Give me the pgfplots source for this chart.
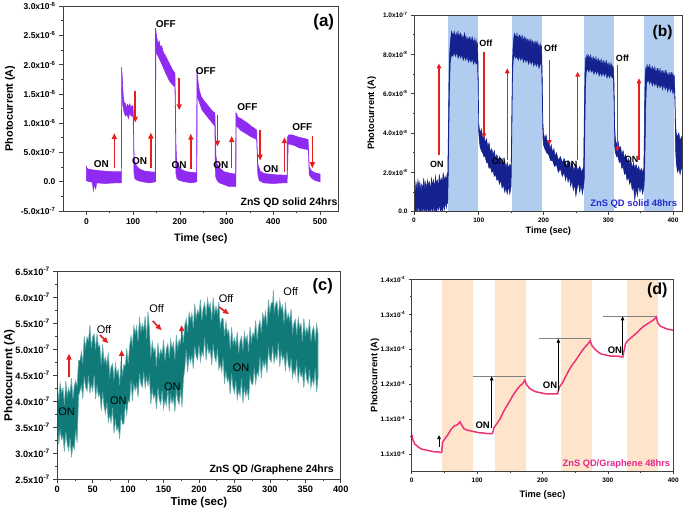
\documentclass[border=0pt]{standalone}
\usepackage{fontspec}
\setmainfont{Liberation Sans}
\usepackage{pgfplots}
\pgfplotsset{compat=1.18}
\usetikzlibrary{arrows.meta}

\definecolor{purpA}{RGB}{143,43,240}
\definecolor{navyB}{RGB}{20,33,143}
\definecolor{bandB}{RGB}{176,205,240}
\definecolor{tealC}{RGB}{16,122,120}
\definecolor{tealE}{RGB}{100,172,172}
\definecolor{pinkD}{RGB}{236,50,120}
\definecolor{bandD}{RGB}{253,228,202}
\definecolor{redA}{RGB}{230,30,30}
\definecolor{blueT}{RGB}{40,40,210}
\definecolor{magT}{RGB}{230,40,140}

\newcommand\fs[1]{\fontsize{#1}{#1}\selectfont}
\newcommand\sci[2]{#1x10\textsuperscript{#2}}

\pgfplotsset{panel/.style={scale only axis, anchor=south west, axis on top,
  axis line style={line width=0.7pt, black!75},
  tick align=outside, xtick pos=bottom, ytick pos=left,
  major tick length=4pt, minor tick length=2pt,
  tick style={line width=0.6pt, black!75},
  minor x tick num=1, minor y tick num=1,
  /pgf/number format/assume math mode=true,
  xlabel={Time (sec)}, ylabel={Photocurrent (A)}}}

\tikzset{arrA/.style={-{Triangle[length=6pt,width=5pt]}, line width=1.6pt, redA},
  arrB/.style={-{Triangle[length=5pt,width=4.5pt]}, line width=1.4pt, redA},
  arrD/.style={-{Triangle[length=4pt,width=3.5pt]}, line width=0.8pt, black}}

\begin{document}
\begin{tikzpicture}
\path[use as bounding box] (0pt,0pt) rectangle (685pt,515pt);

% (a)
\begin{axis}[panel, at={(63pt,304pt)}, width=275.7pt, height=205pt,
  xmin=-50, xmax=540, ymin=-0.5, ymax=3.0,
  xtick={0,100,...,500},
  ytick={-0.5,0,0.5,1,1.5,2,2.5,3},
  yticklabels={-\sci{5.0}{-7},0.0,\sci{5.0}{-7},\sci{1.0}{-6},\sci{1.5}{-6},\sci{2.0}{-6},\sci{2.5}{-6},\sci{3.0}{-6}},
  tick label style={font=\bfseries\fs{8.5}},
  label style={font=\bfseries\fs{10.8}},
  xlabel style={at={(axis description cs:0.5,-0.137)},anchor=center},
  ylabel style={at={(axis description cs:-0.192,0.5)},anchor=center}]
\addplot[fill=purpA, draw=purpA, line width=0.6pt] coordinates {
(0,0.26)(2,0.22)(8,0.21)(15,0.20)(25,0.19)(40,0.18)(55,0.17)(75,0.17)(75.5,1.96)(77,1.75)(79,1.45)(81,1.35)(84,1.33)(86,1.24)(88,1.32)(91,1.28)(93,1.33)(95,1.26)(98,1.30)(100,1.28)(101,1.0)(102,0.45)(104,0.33)(108,0.26)(115,0.21)(125,0.18)(135,0.17)(147.5,0.16)
(148,2.62)(150,2.50)(153,2.36)(156,2.40)(158,2.30)(161,2.32)(165,2.20)(170,2.14)(175,2.06)(180,1.98)(185,1.90)(189.5,1.86)(190.5,1.4)(191.5,0.7)(193,0.35)(198,0.26)(205,0.20)(215,0.17)(236,0.15)
(236.5,1.92)(239,1.70)(242,1.55)(246,1.45)(250,1.40)(255,1.35)(262,1.28)(268,1.22)(275,1.17)(276,0.9)(277,0.45)(280,0.30)(287,0.22)(295,0.17)(310,0.14)(319.5,0.13)
(320,1.18)(322,1.15)(324,1.10)(330,1.08)(337,1.04)(345,1.00)(352,0.95)(358,0.92)(364.5,0.88)(365.5,0.6)(367,0.3)(372,0.18)(380,0.14)(400,0.12)(429.5,0.11)
(430,0.75)(433,0.80)(440,0.80)(450,0.77)(460,0.75)(470,0.73)(474.5,0.72)(475.5,0.5)(477,0.25)(482,0.18)(490,0.15)(500,0.13)
(500,0.00)(490,0.02)(482,0.06)(477,0.12)(475.5,0.45)(474.5,0.55)(465,0.56)(455,0.58)(445,0.62)(432,0.65)(430,0.10)(429.5,-0.02)(420,-0.02)(400,-0.03)(380,-0.02)(370,0.02)(367,0.12)(365.5,0.5)(364.5,0.72)(360,0.74)(350,0.78)(340,0.83)(330,0.88)(322,0.95)(320.5,0.95)(320,-0.08)
(305,-0.08)(295,-0.05)(285,-0.02)(280,0.02)(277,0.08)(276,0.3)(275,0.95)(270,1.00)(262,1.08)(255,1.15)(248,1.22)(242,1.35)(238,1.45)(237,1.5)(236.5,0.0)(225,-0.02)(210,0.0)(200,0.02)(194,0.05)(191.5,0.15)(190.5,1.2)(189.5,1.62)
(185,1.65)(178,1.72)(170,1.85)(162,2.00)(155,2.12)(150,2.20)(148.5,2.3)(148,0.0)(135,-0.02)(120,0.0)(110,0.02)(104,0.05)(102,0.15)(101,0.8)(100,1.12)(96,1.12)(93,1.18)(90,1.08)(87,1.15)(84,1.12)(81,1.18)(78,1.30)(76,1.5)(75.5,1.6)(75,-0.02)
(60,-0.02)(40,-0.03)(22,-0.02)(20,-0.12)(17,-0.05)(15,-0.15)(13,-0.02)(10,0.0)(5,0.0)(0,0.02)} -- cycle;
\draw[arrA] (axis cs:59.8,0.23) -- (axis cs:59.8,0.83);
\draw[arrA] (axis cs:104.7,1.55) -- (axis cs:104.7,1.01);
\draw[arrA] (axis cs:138,0.23) -- (axis cs:138,0.84);
\draw[arrA] (axis cs:198.7,1.77) -- (axis cs:198.7,1.22);
\draw[arrA] (axis cs:223.6,0.22) -- (axis cs:223.6,0.82);
\draw[arrA] (axis cs:280.6,1.14) -- (axis cs:280.6,0.60);
\draw[arrA] (axis cs:311,0.23) -- (axis cs:311,0.78);
\draw[arrA] (axis cs:371.8,0.89) -- (axis cs:371.8,0.36);
\draw[arrA] (axis cs:423.8,0.17) -- (axis cs:423.8,0.76);
\draw[arrA] (axis cs:483.6,0.78) -- (axis cs:483.6,0.23);
\begin{scope}[every node/.style={font=\bfseries\fs{10}}]
\node at (axis cs:32,0.31) {ON};
\node at (axis cs:114,0.35) {ON};
\node at (axis cs:198.7,0.285) {ON};
\node at (axis cs:288,0.285) {ON};
\node at (axis cs:395,0.21) {ON};
\node at (axis cs:170,2.69) {OFF};
\node at (axis cs:255.7,1.89) {OFF};
\node at (axis cs:344.7,1.27) {OFF};
\node at (axis cs:462,0.94) {OFF};
\end{scope}
\node[font=\bfseries\fs{17}] at (axis cs:508,2.73) {(a)};
\node[font=\bfseries\fs{10.5}, anchor=east, inner sep=1pt] at (axis cs:540,-0.36) {ZnS QD solid 24hrs};
\end{axis}

% (b)
\begin{axis}[panel, at={(414pt,303.3pt)}, width=268.7pt, height=196.7pt,
  xmin=0, xmax=415, ymin=0, ymax=10,
  xtick={0,100,...,400},
  ytick={0,2,4,6,8,10},
  yticklabels={0.0,\sci{2.0}{-8},\sci{4.0}{-8},\sci{6.0}{-8},\sci{8.0}{-8},\sci{1.0}{-7}},
  tick label style={font=\bfseries\fs{6.5}},
  label style={font=\bfseries\fs{9.2}},
  major tick length=3pt, minor tick length=1.5pt,
  xlabel style={at={(axis description cs:0.5,-0.1)},anchor=center},
  ylabel style={at={(axis description cs:-0.157,0.5)},anchor=center}]
\fill[bandB] (axis cs:52,0) rectangle (axis cs:98.5,10);
\fill[bandB] (axis cs:151,0) rectangle (axis cs:197,10);
\fill[bandB] (axis cs:263,0) rectangle (axis cs:309.5,10);
\fill[bandB] (axis cs:355.7,0) rectangle (axis cs:402,10);
\addplot[fill=navyB, draw=navyB, line width=0.5pt] coordinates {
(0,1.3)(2,1.0)(3,1.5)(5,1.1)(6,1.6)(8,1.2)(9,1.5)(11,1.0)(12,1.4)(14,1.2)(15,1.7)(17,1.1)(18,1.5)(20,1.2)(21,1.6)(23,1.3)(24,1.5)(26,1.1)(27,1.7)(29,1.3)(30,1.6)(32,1.2)(33,1.8)(35,1.4)(36,1.6)(38,1.3)(39,1.9)(41,1.4)(42,1.7)(44,1.5)(45,2.0)(47,1.5)(48,1.8)(50,1.6)(51,1.9)(52,1.7)
(53,4)(54,6.5)(55,8.0)(56,8.6)(57,8.9)(58,9.2)(59,8.8)(60,9.1)(61,8.7)(62,9.2)(63,8.9)(64,9.0)(65,8.7)(66,9.1)(67,8.8)(68,9.2)(69,8.7)(70,9.0)(71,8.8)(72,9.1)(73,8.6)(74,9.0)(75,8.7)(76,8.9)(77,8.6)(78,9.1)(79,8.7)(80,8.9)(81,8.5)(82,8.9)(83,8.6)(84,8.8)(85,8.5)(86,8.9)(87,8.6)(88,8.8)(89,8.5)(90,8.9)(91,8.6)(92,8.7)(93,8.5)(94,8.8)(95,8.5)(96,8.7)(97,8.4)(98,8.6)
(99,7.5)(100,4.5)(101,4.2)(103,4.0)(104,4.2)(106,3.7)(108,3.9)(110,3.5)(112,3.7)(114,3.3)(116,3.5)(118,3.0)(120,3.2)(122,2.9)(124,3.1)(126,2.7)(128,2.9)(130,2.6)(132,2.8)(134,2.4)(136,2.7)(138,2.3)(140,2.6)(142,2.2)(144,2.5)(146,2.2)(148,2.4)(150,2.2)
(151,5)(152,7.5)(153,8.4)(154,8.8)(155,9.1)(156,8.7)(157,9.0)(158,8.6)(159,9.1)(160,8.7)(161,8.9)(162,8.6)(163,9.0)(164,8.7)(165,8.9)(166,8.5)(167,9.0)(168,8.6)(169,8.8)(170,8.5)(171,8.9)(172,8.6)(173,8.8)(174,8.4)(175,8.8)(176,8.5)(177,8.7)(178,8.4)(179,8.8)(180,8.5)(181,8.7)(182,8.3)(183,8.7)(184,8.4)(185,8.6)(186,8.3)(187,8.7)(188,8.4)(189,8.6)(190,8.3)(191,8.6)(192,8.3)(193,8.5)(194,8.2)(195,8.5)(196,8.3)(197,8.4)
(198,7)(199,4.6)(200,4.0)(202,3.7)(204,3.9)(206,3.5)(208,3.6)(210,3.2)(212,3.4)(214,3.0)(216,3.2)(218,2.8)(220,3.0)(223,2.6)(226,2.8)(229,2.5)(232,2.7)(235,2.3)(238,2.6)(241,2.2)(244,2.5)(247,2.1)(250,2.4)(253,2.1)(256,2.3)(259,2.0)(262,2.3)
(263,5)(264,7)(265,7.8)(266,7.7)(267,8.0)(268,7.6)(269,8.0)(270,7.6)(271,7.9)(272,7.5)(273,8.0)(274,7.6)(275,7.8)(276,7.5)(277,7.9)(278,7.5)(279,7.8)(280,7.4)(281,7.9)(282,7.5)(283,7.7)(284,7.4)(285,7.8)(286,7.4)(287,7.7)(288,7.3)(289,7.8)(290,7.4)(291,7.6)(292,7.3)(293,7.7)(294,7.4)(295,7.6)(296,7.3)(297,7.7)(298,7.3)(299,7.5)(300,7.2)(301,7.6)(302,7.3)(303,7.5)(304,7.2)(305,7.5)(306,7.2)(307,7.4)(308,7.3)
(309,6.5)(310,4.3)(311,3.7)(313,3.4)(315,3.6)(317,3.2)(319,3.3)(321,2.9)(323,3.1)(325,2.7)(327,2.9)(329,2.5)(331,2.7)(333,2.4)(335,2.6)(337,2.2)(339,2.5)(341,2.2)(343,2.4)(345,2.1)(347,2.3)(349,2.0)(351,2.2)(353,2.0)(355,2.2)
(356,5)(357,6.8)(358,7.3)(359,7.2)(360,7.5)(361,7.1)(362,7.4)(363,7.0)(364,7.5)(365,7.1)(366,7.3)(367,7.0)(368,7.4)(369,7.0)(370,7.3)(371,6.9)(372,7.4)(373,7.0)(374,7.2)(375,6.9)(376,7.3)(377,7.0)(378,7.2)(379,6.9)(380,7.3)(381,6.9)(382,7.1)(383,6.8)(384,7.2)(385,6.9)(386,7.1)(387,6.8)(388,7.2)(389,6.8)(390,7.1)(391,6.8)(392,7.0)(393,6.7)(394,7.1)(395,6.8)(396,7.0)(397,6.7)(398,7.1)(399,6.8)(400,7.0)(401,6.8)(402,6.9)
(403,6)(404,4.5)(405,4.0)(407,3.8)(409,4.0)(411,3.6)(413,3.8)(415,3.4)
(415,2.0)(413,2.3)(411,1.9)(409,2.2)(407,2.0)(405,2.5)(404,3.2)(403,5.5)(402,6.3)(400,6.0)(398,6.3)(396,6.1)(394,6.4)(392,6.1)(390,6.4)(388,6.2)(386,6.5)(384,6.2)(382,6.5)(380,6.3)(378,6.5)(376,6.3)(374,6.6)(372,6.4)(370,6.6)(368,6.4)(366,6.7)(364,6.5)(362,6.7)(360,6.6)(359,6.5)(358,5.5)(357,3.5)(356,1.8)
(355,1.2)(353,0.9)(351,1.3)(349,1.0)(347,1.4)(345,0.8)(343,1.2)(341,0.6)(339,1.3)(337,1.1)(335,1.6)(333,1.4)(331,1.8)(329,1.6)(327,2.0)(325,1.9)(323,2.3)(321,2.2)(319,2.6)(317,2.5)(315,2.8)(313,2.8)(311,3.0)(310,3.3)(309,5.5)(308,6.8)
(306,6.8)(304,7.0)(302,6.8)(300,7.0)(298,6.8)(296,7.1)(294,6.9)(292,7.1)(290,6.9)(288,7.1)(286,6.9)(284,7.2)(282,7.0)(280,7.2)(278,7.0)(276,7.2)(274,7.1)(272,7.3)(270,7.1)(268,7.3)(266,7.1)(265,6.5)(264,4.5)(263,1.7)
(262,1.3)(260,0.9)(258,1.4)(256,1.0)(254,1.5)(252,1.2)(250,0.8)(248,1.4)(246,1.1)(244,1.6)(242,1.3)(240,1.8)(238,1.5)(236,1.9)(234,1.6)(232,2.0)(229,1.8)(226,2.2)(223,2.0)(220,2.4)(217,2.3)(214,2.6)(211,2.6)(208,2.9)(205,3.0)(202,3.2)(200,3.4)(199,3.8)(198,6.0)(197,7.5)
(195,7.5)(193,7.3)(191,7.6)(189,7.4)(187,7.6)(185,7.4)(183,7.7)(181,7.5)(179,7.7)(177,7.5)(175,7.8)(173,7.6)(171,7.8)(169,7.6)(167,7.9)(165,7.7)(163,7.9)(161,7.7)(159,7.9)(157,7.8)(155,8.0)(153,7.6)(152,6.5)(151,3.5)(150,1.3)
(148,0.9)(146,1.3)(144,0.9)(142,1.2)(140,1.0)(138,1.4)(136,1.2)(134,1.6)(132,1.4)(130,1.7)(128,1.6)(126,1.9)(124,1.8)(122,2.1)(120,2.0)(118,2.3)(116,2.2)(114,2.5)(112,2.5)(110,2.8)(108,2.8)(106,3.0)(104,3.1)(102,3.3)(101,3.6)(100,4.0)(99,6.5)(98,7.6)
(96,7.5)(94,7.7)(92,7.5)(90,7.8)(88,7.6)(86,7.8)(84,7.6)(82,7.9)(80,7.7)(78,7.9)(76,7.7)(74,8.0)(72,7.8)(70,8.0)(68,7.8)(66,8.1)(64,7.9)(62,8.1)(60,7.9)(58,8.0)(56,7.6)(55,6.5)(54,4.5)(53,2.0)(52,0.4)
(51,0.6)(50,0.2)(48,0.5)(47,0.1)(45,0.4)(44,-0.2)(42,0.3)(41,0.0)(39,0.4)(38,0.1)(36,0.3)(35,-0.2)(33,0.2)(32,0.0)(30,0.3)(29,-0.1)(27,0.3)(26,0.0)(24,0.2)(23,-0.2)(21,0.3)(20,0.0)(18,0.2)(17,-0.1)(15,0.3)(14,0.0)(12,0.2)(11,-0.2)(9,0.2)(8,0.0)(6,0.3)(5,-0.1)(3,0.2)(2,0.0)(0,0.4)} -- cycle;
\draw[arrB] (axis cs:38.6,2.88) -- (axis cs:38.6,7.54);
\draw[arrB] (axis cs:108,8.13) -- (axis cs:108,3.73);
\draw[arrB] (axis cs:144,2.63) -- (axis cs:144,7.29);
\draw[arrB] (axis cs:209,7.71) -- (axis cs:209,3.39);
\draw[arrB] (axis cs:252.8,2.63) -- (axis cs:252.8,7.12);
\draw[arrB] (axis cs:314,7.46) -- (axis cs:314,3.05);
\draw[arrB] (axis cs:347.5,2.63) -- (axis cs:347.5,6.78);
\begin{scope}[every node/.style={font=\bfseries\fs{9}}]
\node at (axis cs:35.5,2.41) {ON};
\node at (axis cs:111,8.56) {Off};
\node at (axis cs:130.8,2.58) {ON};
\node at (axis cs:211,8.3) {Off};
\node at (axis cs:242,2.42) {ON};
\node at (axis cs:322,7.8) {Off};
\node at (axis cs:336,2.66) {ON};
\end{scope}
\node[font=\bfseries\fs{15.5}] at (axis cs:384,9.12) {(b)};
\node[font=\bfseries\fs{9.4}, text=blueT, anchor=east, inner sep=1pt] at (axis cs:408,0.39) {ZnS QD solid 48hrs};
\end{axis}

% (c)
\begin{axis}[panel, at={(57.3pt,36pt)}, width=283.4pt, height=207.3pt,
  xmin=0, xmax=400, ymin=2.5, ymax=6.5,
  xtick={0,50,...,400},
  ytick={2.5,3,...,6.5},
  yticklabels={\sci{2.5}{-7},\sci{3.0}{-7},\sci{3.5}{-7},\sci{4.0}{-7},\sci{4.5}{-7},\sci{5.0}{-7},\sci{5.5}{-7},\sci{6.0}{-7},\sci{6.5}{-7}},
  tick label style={font=\bfseries\fs{9.2}},
  label style={font=\bfseries\fs{11.5}},
  xlabel style={at={(axis description cs:0.5,-0.112)},anchor=center},
  ylabel style={at={(axis description cs:-0.169,0.5)},anchor=center}]
\addplot[fill=tealC, draw=tealE, line width=0.6pt] coordinates {
(0,4.30)(2,4.02)(4,4.35)(6,4.17)(8,4.26)(10,3.93)(12,4.39)(14,4.10)(16,4.25)(18,4.16)(20,4.44)(22,4.05)(24,4.29)(26,4.40)(28,4.29)(30,4.79)(32,4.78)(34,4.96)(36,4.72)(38,5.25)(40,5.04)(42,5.24)(44,5.17)(46,5.47)(48,5.03)(50,5.24)(52,5.30)(54,5.00)(56,5.30)(58,5.05)(60,5.08)(62,4.70)(64,5.10)(66,4.75)(68,4.85)(70,4.70)(72,4.94)(74,4.48)(76,4.67)(78,4.72)(80,4.41)(82,4.73)(84,4.53)(86,4.61)(88,4.31)(90,4.78)(92,4.51)(94,4.71)(96,4.68)(98,5.02)
(100,4.72)(102,5.06)(104,5.26)(106,5.07)(108,5.45)(110,5.31)(112,5.45)(114,5.15)(116,5.63)(118,5.35)(120,5.49)(122,5.38)(124,5.64)(126,5.21)(128,5.72)(130,5.40)(132,4.84)(134,5.15)(136,4.95)(138,5.03)(140,4.67)(142,5.13)(144,4.84)(146,5.00)(148,4.91)(150,5.19)(152,4.78)(154,5.02)(156,5.11)(158,4.84)(160,5.19)(162,5.02)(164,5.13)(166,4.81)(168,5.28)(170,5.01)(172,5.19)(174,5.12)(176,5.42)(178,5.13)(180,5.47)(182,5.59)(184,5.34)(186,5.71)(188,5.57)(190,5.70)(192,5.41)(194,5.88)(196,5.59)(198,5.76)
(200,5.68)(202,5.96)(204,5.56)(206,5.80)(208,5.90)(210,5.63)(212,5.98)(214,5.80)(216,5.89)(218,5.56)(220,6.00)(222,5.69)(224,5.83)(226,5.70)(228,5.91)(230,5.43)(232,5.59)(234,5.60)(236,5.26)(238,5.54)(240,5.31)(242,5.38)(244,5.01)(246,5.43)(248,5.10)(250,5.22)(252,5.08)(254,5.34)(256,4.93)(258,5.16)(260,5.25)(262,4.98)(264,5.33)(266,5.16)(268,5.27)(270,4.96)(272,5.43)(274,5.15)(276,5.32)(278,5.25)(280,5.56)(282,5.18)(284,5.44)(286,5.56)(288,5.32)(290,5.70)(292,5.57)(294,5.73)(296,5.45)(298,5.96)
(300,5.70)(302,5.90)(304,5.90)(305,6.15)(306,5.72)(308,5.87)(310,5.93)(312,5.64)(314,5.96)(316,5.77)(318,5.85)(320,5.50)(322,5.91)(324,5.58)(326,5.69)(328,5.55)(330,5.78)(332,5.32)(334,5.51)(336,5.58)(338,5.28)(340,5.61)(342,5.42)(344,5.50)(346,5.16)(348,5.60)(350,5.28)(352,5.42)(354,5.32)(356,5.58)(358,5.15)(360,5.37)(362,5.44)(364,5.15)(366,5.49)(368,5.30)
(368,4.46)(366,4.17)(364,4.63)(362,4.32)(360,4.43)(358,4.26)(356,4.61)(354,4.34)(352,4.43)(350,4.67)(348,4.26)(346,4.55)(344,4.47)(342,4.63)(340,4.35)(338,4.81)(336,4.50)(334,4.61)(332,4.46)(330,4.83)(328,4.59)(326,4.71)(324,4.96)(322,4.58)(320,4.88)(318,4.80)(316,4.96)(314,4.67)(312,5.13)(310,4.80)(308,4.91)(306,4.74)(304,5.07)(302,4.76)(300,4.81)
(298,5.00)(296,4.55)(294,4.79)(292,4.66)(290,4.78)(288,4.44)(286,4.86)(284,4.49)(282,4.56)(280,4.34)(278,4.65)(276,4.32)(274,4.34)(272,4.50)(270,4.02)(268,4.23)(266,4.10)(264,4.26)(262,3.97)(260,4.43)(258,4.10)(256,4.21)(254,4.04)(252,4.40)(250,4.16)(248,4.27)(246,4.53)(244,4.14)(242,4.45)(240,4.38)(238,4.58)(236,4.34)(234,4.84)(232,4.57)(230,4.73)(228,4.61)(226,5.01)(224,4.76)(222,4.86)(220,5.10)(218,4.70)(216,4.99)(214,4.92)(212,5.09)(210,4.79)(208,5.23)(206,4.88)(204,4.96)(202,4.77)(200,5.09)
(198,4.80)(196,4.86)(194,5.07)(192,4.63)(190,4.88)(188,4.75)(186,4.88)(184,4.56)(182,4.99)(180,4.64)(178,4.42)(176,3.89)(174,4.23)(172,3.94)(170,4.02)(168,4.23)(166,3.80)(164,4.07)(162,3.96)(160,4.11)(158,3.81)(156,4.25)(154,3.92)(152,4.03)(150,3.86)(148,4.21)(146,3.94)(144,4.03)(142,4.26)(140,3.85)(138,4.14)(136,4.06)(134,4.23)(132,3.94)(130,4.48)(128,4.30)(126,4.46)(124,4.26)(122,4.57)(120,4.27)(118,4.33)(116,4.53)(114,4.08)(112,4.33)(110,4.21)(108,4.33)(106,4.01)(104,4.41)(102,3.99)(100,4.01)
(98,3.74)(96,3.96)(94,3.56)(92,3.56)(90,3.74)(88,3.27)(86,3.50)(84,3.44)(82,3.64)(80,3.38)(78,3.87)(76,3.59)(74,3.73)(72,3.60)(70,3.98)(68,3.76)(66,3.90)(64,4.18)(62,3.82)(60,4.15)(58,4.10)(56,4.30)(54,4.04)(52,4.51)(50,4.20)(48,4.32)(46,4.16)(44,4.49)(42,4.20)(40,4.27)(38,4.48)(36,4.05)(34,4.31)(32,4.20)(30,4.10)(28,3.20)(26,3.45)(24,3.08)(22,3.14)(20,2.92)(18,3.30)(16,3.05)(14,3.17)(12,3.42)(10,3.03)(8,3.33)(6,3.26)(4,3.44)(2,3.17)(0,3.65)} -- cycle;
\draw[arrA] (axis cs:16.5,4.47) -- (axis cs:16.5,4.92);
\draw[arrA] (axis cs:60.2,5.28) -- (axis cs:72,5.12);
\draw[arrA] (axis cs:90.8,4.54) -- (axis cs:90.8,4.99);
\draw[arrA] (axis cs:134.6,5.55) -- (axis cs:147.3,5.37);
\draw[arrA] (axis cs:175.5,5.02) -- (axis cs:175.5,5.47);
\draw[arrA] (axis cs:228,5.82) -- (axis cs:242.4,5.68);
\begin{scope}[every node/.style={font=\fs{11}}]
\node at (axis cs:13.2,3.79) {ON};
\node at (axis cs:65.9,5.39) {Off};
\node at (axis cs:86.1,4.02) {ON};
\node at (axis cs:140.2,5.79) {Off};
\node at (axis cs:162.4,4.28) {ON};
\node at (axis cs:238.1,5.99) {Off};
\node at (axis cs:259.3,4.65) {ON};
\node at (axis cs:329.4,6.11) {Off};
\end{scope}
\node[font=\bfseries\fs{16.5}] at (axis cs:374.6,6.22) {(c)};
\node[font=\bfseries\fs{10.5}] at (axis cs:302.6,2.67) {ZnS QD /Graphene 24hrs};
\end{axis}

% (d)
\begin{axis}[panel, at={(411.7pt,44pt)}, width=261.6pt, height=191.7pt,
  xmin=0, xmax=400, ymin=1.0756, ymax=1.35,
  xtick={0,100,...,400},
  ytick={1.10,1.15,1.20,1.25,1.30,1.35},
  yticklabels={\sci{1.1}{-4},\sci{1.1}{-4},\sci{1.2}{-4},\sci{1.3}{-4},\sci{1.3}{-4},\sci{1.4}{-4}},
  tick label style={font=\bfseries\fs{6.5}},
  label style={font=\bfseries\fs{9.3}},
  major tick length=3pt, minor tick length=1.5pt,
  xlabel style={at={(axis description cs:0.5,-0.125)},anchor=center},
  ylabel style={at={(axis description cs:-0.140,0.5)},anchor=center}]
\fill[bandD] (axis cs:46,1.0756) rectangle (axis cs:94.3,1.35);
\fill[bandD] (axis cs:127.4,1.0756) rectangle (axis cs:174.8,1.35);
\fill[bandD] (axis cs:228.3,1.0756) rectangle (axis cs:276.2,1.35);
\fill[bandD] (axis cs:328.7,1.0756) rectangle (axis cs:376.1,1.35);
\addplot[pinkD, line width=1.5pt] coordinates {
(0,1.128)(2,1.120)(5,1.114)(10,1.110)(15,1.107)(20,1.106)(25,1.105)(30,1.104)(35,1.103)(40,1.103)(45,1.102)(46,1.103)(47,1.116)(50,1.121)(55,1.127)(60,1.135)(65,1.140)(70,1.142)(74,1.146)(76,1.142)(80,1.136)(85,1.134)(90,1.133)(95,1.132)(100,1.131)(105,1.130)(110,1.130)(115,1.129)(120,1.129)(123,1.129)
(124,1.131)(126,1.138)(130,1.143)(135,1.150)(140,1.160)(145,1.168)(150,1.176)(155,1.184)(160,1.191)(165,1.197)(170,1.201)(173,1.206)(175,1.200)(180,1.194)(185,1.191)(190,1.189)(195,1.188)(200,1.187)(205,1.186)(210,1.186)(215,1.186)(220,1.186)(223,1.186)
(224,1.190)(226,1.196)(230,1.201)(235,1.210)(240,1.219)(245,1.227)(250,1.233)(255,1.240)(260,1.247)(265,1.253)(270,1.258)(273,1.262)(275,1.256)(280,1.250)(285,1.246)(290,1.243)(295,1.242)(300,1.241)(305,1.240)(310,1.240)(315,1.240)(320,1.239)(323,1.239)
(324,1.245)(327,1.258)(330,1.262)(335,1.266)(340,1.270)(345,1.274)(350,1.279)(355,1.283)(360,1.286)(365,1.289)(370,1.292)(374,1.296)(376,1.288)(380,1.283)(385,1.281)(390,1.279)(395,1.278)(400,1.277)};
\draw[gray, line width=0.8pt] (axis cs:93,1.211) -- (axis cs:174,1.211);
\draw[gray, line width=0.8pt] (axis cs:194,1.265) -- (axis cs:274,1.265);
\draw[gray, line width=0.8pt] (axis cs:293,1.297) -- (axis cs:374,1.297);
\draw[arrD] (axis cs:41.8,1.1105) -- (axis cs:41.8,1.127);
\draw[arrD] (axis cs:122.3,1.137) -- (axis cs:122.3,1.211);
\draw[arrD] (axis cs:224.2,1.1895) -- (axis cs:224.2,1.265);
\draw[arrD] (axis cs:322.5,1.242) -- (axis cs:322.5,1.297);
\begin{scope}[every node/.style={font=\bfseries\fs{9.5}}]
\node at (axis cs:108.5,1.1416) {ON};
\node at (axis cs:211.5,1.199) {ON};
\node at (axis cs:310.8,1.248) {ON};
\end{scope}
\node[font=\bfseries\fs{16}] at (axis cs:375.5,1.334) {(d)};
\node[font=\bfseries\fs{9.3}, text=magT, anchor=east, inner sep=1pt] at (axis cs:397,1.0856) {ZnS QD/Graphene 48hrs};
\end{axis}
\end{tikzpicture}
\end{document}
